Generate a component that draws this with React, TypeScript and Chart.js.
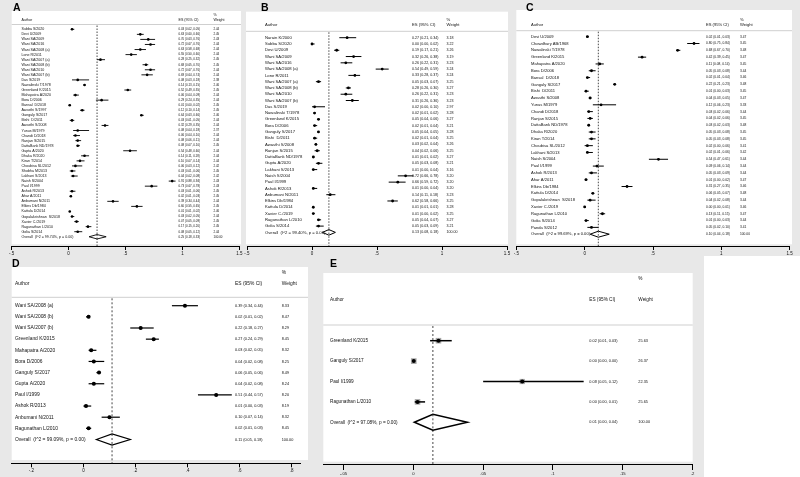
import React, { useEffect, useRef } from "react";
import { Chart, registerables } from "chart.js";
Chart.register(...registerables);

// ---------------- DATA ----------------
const A_AUTHORS = ["Subba S/2020","Devi U/2009","Wani SA/2009","Wani SA/2016","Wani SA/2008 (a)","Lone R/2011","Wani SA/2007 (a)","Wani SA/2008 (b)","Wani SA/2010","Wani SA/2007 (b)","Das S/2019","Nawalinski T/1978","Greenland K/2015","Mahapatra A/2020","Bora D/2006","Bansal  D/2018","Awasthi S/1997","Ganguly S/2017","Bishi  D/2011","Awasthi S/2008","Yunus M/1979","Chandi D/2018","Ranjan S/2015","DattaBank ND/1978","Gupta A/2020","Dhaka R/2020","Kiran T/2014","Choubisa SL/2012","Shobha M/2013","Lakhani S/2013","Naish S/2004","Paul I/1999","Ashok R/2013","Ahar A/2011","Anbumani N/2011","Elkins Db/1984","Kattula D/2014","Gopalakrishnan  S/2018","Xavier C./2019","Ragunathan L/2010","Golia S/2014"];
const A_ES = [0.03,0.63,0.70,0.72,0.63,0.55,0.28,0.68,0.72,0.69,0.08,0.14,0.52,0.06,0.29,0.01,0.12,0.64,0.03,0.32,0.08,0.06,0.08,0.08,0.54,0.14,0.10,0.06,0.03,0.04,0.91,0.73,0.03,0.02,0.39,0.60,0.01,0.03,0.07,0.17,0.08];
const A_LO = [0.02,0.60,0.63,0.67,0.58,0.50,0.25,0.65,0.67,0.64,0.03,0.13,0.49,0.04,0.24,0.00,0.10,0.63,0.01,0.29,0.04,0.04,0.06,0.07,0.48,0.11,0.07,0.03,0.01,0.02,0.88,0.67,0.01,0.01,0.34,0.55,0.01,0.02,0.05,0.15,0.05];
const A_HI = [0.05,0.66,0.76,0.76,0.68,0.60,0.32,0.70,0.76,0.74,0.18,0.15,0.55,0.09,0.35,0.02,0.14,0.66,0.05,0.35,0.18,0.10,0.11,0.10,0.60,0.18,0.14,0.12,0.06,0.08,0.94,0.78,0.06,0.03,0.44,0.65,0.02,0.05,0.09,0.20,0.12];
const A_WEIGHT = [2.44,2.45,2.43,2.44,2.44,2.44,2.45,2.45,2.44,2.44,2.38,2.46,2.45,2.44,2.44,2.45,2.45,2.46,2.44,2.44,2.37,2.44,2.44,2.45,2.44,2.44,2.44,2.42,2.45,2.42,2.43,2.43,2.45,2.45,2.44,2.45,2.46,2.44,2.45,2.45,2.44];
const A_OVERALL = [0.25, 0.18, 0.33];
const A_OVERALL_LABEL = "Overall  (I^2 = 99.74%, p = 0.00)";
const A_TICKS = [-0.5, 0, 0.5, 1, 1.5];

const B_AUTHORS = ["Narain K/2000","Subba S/2020","Devi U/2009","Wani SA/2009","Wani SA/2016","Wani SA/2008 (a)","Lone R/2011","Wani SA/2007 (a)","Wani SA/2008 (b)","Wani SA/2010","Wani SA/2007 (b)","Das S/2019","Nawalinski T/1978","Greenland K/2015","Bora D/2006","Ganguly S/2017","Bishi  D/2011","Awasthi S/2008","Ranjan S/2015","DattaBank ND/1978","Gupta A/2020","Lakhani S/2013","Naish S/2004","Paul I/1999","Ashok R/2013","Anbumani N/2011","Elkins Db/1984","Kattula D/2014","Xavier C./2019","Ragunathan L/2010","Golia S/2014"];
const B_ES = [0.27,0.00,0.19,0.32,0.26,0.54,0.33,0.05,0.28,0.26,0.31,0.02,0.02,0.05,0.02,0.05,0.02,0.03,0.04,0.01,0.05,0.01,0.72,0.66,0.01,0.14,0.62,0.01,0.01,0.05,0.05];
const B_LO = [0.21,0.00,0.17,0.26,0.22,0.49,0.28,0.03,0.26,0.22,0.26,0.00,0.01,0.04,0.01,0.04,0.01,0.02,0.02,0.01,0.03,0.00,0.66,0.59,0.00,0.11,0.58,0.01,0.00,0.04,0.03];
const B_HI = [0.34,0.02,0.21,0.38,0.31,0.59,0.37,0.07,0.30,0.31,0.36,0.10,0.02,0.06,0.04,0.05,0.04,0.04,0.06,0.02,0.08,0.04,0.78,0.72,0.04,0.18,0.66,0.01,0.02,0.07,0.09];
const B_WEIGHT = [3.18,3.22,3.26,3.19,3.23,3.24,3.24,3.25,3.27,3.23,3.23,2.97,3.28,3.27,3.21,3.28,3.25,3.26,3.25,3.27,3.21,3.16,3.20,3.20,3.20,3.23,3.25,3.28,3.25,3.27,3.21];
const B_OVERALL = [0.13, 0.08, 0.18];
const B_OVERALL_LABEL = "Overall  (I^2 = 99.40%, p = 0.00)";
const B_TICKS = [-0.5, 0, 0.5, 1, 1.5];

const C_AUTHORS = ["Devi U/2009","Chowdhury AB/1968","Nawalinski T/1978","Greenland K/2015","Mahapatra A/2020","Bora D/2006","Bansal  D/2018","Ganguly S/2017","Bishi  D/2011","Awasthi S/2008","Yunus M/1979","Chandi D/2018","Ranjan S/2015","DattaBank ND/1978","Dhaka R/2020","Kiran T/2014","Choubisa SL/2012","Lakhani S/2013","Naish S/2004","Paul I/1999","Ashok R/2013","Ahar A/2011","Elkins Db/1984","Kattula D/2014","Gopalakrishnan  S/2018","Xavier C./2019","Ragunathan L/2010","Golia S/2014","Panda S/2012"];
const C_ES = [0.02,0.80,0.68,0.42,0.11,0.05,0.02,0.22,0.01,0.04,0.12,0.03,0.04,0.03,0.05,0.05,0.02,0.02,0.54,0.09,0.05,0.01,0.31,0.06,0.04,0.00,0.13,0.01,0.05];
const C_LO = [0.01,0.75,0.67,0.39,0.08,0.03,0.01,0.21,0.00,0.03,0.06,0.02,0.02,0.02,0.03,0.03,0.00,0.01,0.47,0.06,0.03,0.00,0.27,0.05,0.02,0.00,0.11,0.00,0.02];
const C_HI = [0.03,0.84,0.70,0.45,0.14,0.08,0.04,0.23,0.03,0.05,0.23,0.06,0.06,0.03,0.08,0.08,0.06,0.06,0.61,0.14,0.09,0.02,0.35,0.07,0.08,0.01,0.15,0.03,0.10];
const C_WEIGHT = [3.47,3.45,3.48,3.47,3.45,3.44,3.46,3.48,3.45,3.47,3.33,3.44,3.45,3.48,3.45,3.45,3.41,3.42,3.44,3.44,3.44,3.47,3.46,3.48,3.44,3.46,3.47,3.44,3.41];
const C_OVERALL = [0.10, 0.04, 0.18];
const C_OVERALL_LABEL = "Overall  (I^2 = 99.69%, p = 0.00)";
const C_TICKS = [-0.5, 0, 0.5, 1, 1.5];

const D_AUTHORS = ["Wani SA/2008 (a)","Wani SA/2008 (b)","Wani SA/2007 (b)","Greenland K/2015","Mahapatra A/2020","Bora D/2006","Ganguly S/2017","Gupta A/2020","Paul I/1999","Ashok R/2013","Anbumani N/2011","Ragunathan L/2010"];
const D_ES = [0.39,0.02,0.22,0.27,0.03,0.04,0.06,0.04,0.51,0.01,0.10,0.02];
const D_LO = [0.34,0.01,0.18,0.24,0.02,0.02,0.05,0.02,0.44,0.00,0.07,0.01];
const D_HI = [0.44,0.02,0.27,0.29,0.05,0.08,0.06,0.08,0.57,0.03,0.14,0.03];
const D_WEIGHT = [8.33,8.47,8.29,8.45,8.32,8.25,8.49,8.24,8.20,8.19,8.32,8.45];
const D_OVERALL = [0.11, 0.05, 0.18];
const D_OVERALL_LABEL = "Overall  (I^2 = 99.09%, p = 0.00)";
const D_TICKS = [-0.2, 0, 0.2, 0.4, 0.6, 0.8];

const E_AUTHORS = ["Greenland K/2015","Ganguly S/2017","Paul I/1999","Ragunathan L/2010"];
const E_ES = [0.018,0.0003,0.078,0.003];
const E_LO = [0.012,0.0,0.05,0.001];
const E_HI = [0.0275,0.0008,0.122,0.0084];
const E_WEIGHT = [25.63,26.37,22.35,25.65];
const E_OVERALL = [0.014, 0.0007, 0.0387];
const E_OVERALL_LABEL = "Overall  (I^2 = 97.08%, p = 0.00)";
const E_TICKS = [-0.05, 0, 0.05, 0.1, 0.15, 0.2];

// ---------------- STYLE / LAYOUT ----------------
const FONT = '"Liberation Sans", Arial, Helvetica, sans-serif';
const GRAY = "#e8e8e8";
const TEXT = "#111111";

type PanelData = {
  authors: string[]; es: number[]; lo: number[]; hi: number[]; weight: number[];
  overall: number[]; overallLabel: string; ticks: number[];
};
type Layout = {
  label: string; labelX: number; labelY: number;
  box: number[]; area: number[]; xMin: number; xMax: number;
  whiteLeft: number; whiteRight: number; whiteGap: number;
  firstRow: number; rowGap: number;
  pctY: number; headY: number; lineY: number;
  nameX: number; esX: number; wX: number;
  nameSize: number; numSize: number; tickSize: number; tickLen: number; tickPad: number;
  dot: number; lineW: number; sq: number; diaH: number; dash: number[];
};

const PANELS: { data: PanelData; lay: Layout }[] = [
  {
    data: { authors: A_AUTHORS, es: A_ES, lo: A_LO, hi: A_HI, weight: A_WEIGHT, overall: A_OVERALL, overallLabel: A_OVERALL_LABEL, ticks: A_TICKS },
    lay: { label: "A", labelX: 13, labelY: 2.5, box: [0, 0, 244, 256], area: [11.7, 11, 239.3, 246], xMin: -0.5, xMax: 1.5,
      whiteLeft: 11.7, whiteRight: 241, whiteGap: 1.7, firstRow: 29.3, rowGap: 5.06, pctY: 14.7, headY: 20, lineY: 24.5,
      nameX: 21.5, esX: 178.5, wX: 213.5, nameSize: 3.6, numSize: 2.95, tickSize: 4.5, tickLen: 4, tickPad: 1,
      dot: 1.3, lineW: 0.9, sq: 1.0, diaH: 2.2, dash: [1.5, 1.5] },
  },
  {
    data: { authors: B_AUTHORS, es: B_ES, lo: B_LO, hi: B_HI, weight: B_WEIGHT, overall: B_OVERALL, overallLabel: B_OVERALL_LABEL, ticks: B_TICKS },
    lay: { label: "B", labelX: 261, labelY: 2.5, box: [244, 0, 270, 256], area: [247, 11.7, 507, 246], xMin: -0.5, xMax: 1.5,
      whiteLeft: 246, whiteRight: 508, whiteGap: 1.7, firstRow: 37.7, rowGap: 6.28, pctY: 20, headY: 25, lineY: 31.3,
      nameX: 265, esX: 412, wX: 446.5, nameSize: 4.2, numSize: 3.6, tickSize: 4.5, tickLen: 4, tickPad: 1,
      dot: 1.4, lineW: 1, sq: 1.0, diaH: 2.8, dash: [1.5, 1.5] },
  },
  {
    data: { authors: C_AUTHORS, es: C_ES, lo: C_LO, hi: C_HI, weight: C_WEIGHT, overall: C_OVERALL, overallLabel: C_OVERALL_LABEL, ticks: C_TICKS },
    lay: { label: "C", labelX: 526, labelY: 2.5, box: [514, 0, 286, 256], area: [516.3, 10, 789.7, 246], xMin: -0.5, xMax: 1.5,
      whiteLeft: 516.3, whiteRight: 792, whiteGap: 1.7, firstRow: 36.7, rowGap: 6.81, pctY: 20, headY: 25, lineY: 30.7,
      nameX: 531, esX: 706, wX: 740, nameSize: 4.1, numSize: 3.25, tickSize: 4.5, tickLen: 4, tickPad: 1,
      dot: 1.4, lineW: 1, sq: 1.0, diaH: 3, dash: [1.5, 1.5] },
  },
  {
    data: { authors: D_AUTHORS, es: D_ES, lo: D_LO, hi: D_HI, weight: D_WEIGHT, overall: D_OVERALL, overallLabel: D_OVERALL_LABEL, ticks: D_TICKS },
    lay: { label: "D", labelX: 12, labelY: 259, box: [0, 256, 308, 221], area: [11.7, 267, 300, 463.3], xMin: -0.2754, xMax: 0.832,
      whiteLeft: 11.7, whiteRight: 308, whiteGap: 3.3, firstRow: 305.7, rowGap: 11.15, pctY: 272.3, headY: 284, lineY: 297.3,
      nameX: 15, esX: 235, wX: 281.7, nameSize: 4.9, numSize: 3.8, tickSize: 4.5, tickLen: 4, tickPad: 1,
      dot: 2, lineW: 1.2, sq: 1.0, diaH: 5.5, dash: [2, 2] },
  },
  {
    data: { authors: E_AUTHORS, es: E_ES, lo: E_LO, hi: E_HI, weight: E_WEIGHT, overall: E_OVERALL, overallLabel: E_OVERALL_LABEL, ticks: E_TICKS },
    lay: { label: "E", labelX: 330, labelY: 259, box: [308, 256, 396, 221], area: [323.3, 273, 692.7, 464], xMin: -0.0645, xMax: 0.2001,
      whiteLeft: 323.3, whiteRight: 692.7, whiteGap: 2.3, firstRow: 340.7, rowGap: 20.4, pctY: 279, headY: 300, lineY: 325,
      nameX: 330, esX: 589.3, wX: 638.3, nameSize: 4.7, numSize: 3.85, tickSize: 4.2, tickLen: 6, tickPad: 1.5,
      dot: 2, lineW: 1.5, sq: 1.1, diaH: 8, dash: [2, 2] },
  },
];

function fmtTick(v: number): string {
  const r = Math.round(v * 1000) / 1000;
  if (r === 0) return "0";
  return String(r).replace(/^(-?)0\./, "$1.");
}
function fmtES(es: number, lo: number, hi: number): string {
  return `${es.toFixed(2)} (${lo.toFixed(2)}, ${hi.toFixed(2)})`;
}

function Forest({ data, lay }: { data: PanelData; lay: Layout }) {
  const ref = useRef<HTMLCanvasElement>(null);
  useEffect(() => {
    const cv = ref.current!;
    const [bl, bt, bw, bh] = lay.box;
    const [al, at, ar, ab] = lay.area;
    const n = data.authors.length;
    const yMin = -(lay.firstRow - at) / lay.rowGap;
    const yMax = yMin + (ab - at) / lay.rowGap;
    const font = (s: number, bold = false) => `${bold ? "bold " : ""}${s}px ${FONT}`;

    const plugin = {
      id: "forest" + lay.label,
      beforeDraw(chart: any) {
        const ctx = chart.ctx;
        const ca = chart.chartArea;
        ctx.save();
        ctx.fillStyle = GRAY;
        ctx.fillRect(0, 0, bw, bh);
        ctx.fillStyle = "#ffffff";
        ctx.fillRect(lay.whiteLeft - bl, ca.top, lay.whiteRight - lay.whiteLeft, ca.bottom - lay.whiteGap - ca.top);
        ctx.restore();
      },
      beforeDatasetsDraw(chart: any) {
        const ctx = chart.ctx;
        const xs = chart.scales.x;
        const ys = chart.scales.y;
        const ca = chart.chartArea;
        ctx.save();
        ctx.strokeStyle = "#cfcfcf";
        ctx.lineWidth = 1;
        ctx.beginPath();
        ctx.moveTo(lay.whiteLeft - bl, lay.lineY - bt);
        ctx.lineTo(lay.whiteRight - bl, lay.lineY - bt);
        ctx.stroke();
        const ox = xs.getPixelForValue(data.overall[0]);
        ctx.strokeStyle = "#333";
        ctx.lineWidth = 0.9;
        ctx.setLineDash(lay.dash);
        ctx.beginPath();
        ctx.moveTo(ox, lay.lineY - bt + 1);
        ctx.lineTo(ox, ca.bottom);
        ctx.stroke();
        ctx.setLineDash([]);
        for (let i = 0; i < n; i++) {
          const y = ys.getPixelForValue(i);
          const side = Math.sqrt(data.weight[i]) * lay.sq;
          const cx = xs.getPixelForValue(data.es[i]);
          ctx.fillStyle = "#a6a6a6";
          ctx.fillRect(cx - side / 2, y - side / 2, side, side);
          ctx.strokeStyle = "#000";
          ctx.lineWidth = lay.lineW;
          ctx.beginPath();
          ctx.moveTo(xs.getPixelForValue(data.lo[i]), y);
          ctx.lineTo(xs.getPixelForValue(data.hi[i]), y);
          ctx.stroke();
        }
        const dy = ys.getPixelForValue(n);
        ctx.strokeStyle = "#000";
        ctx.fillStyle = "#fff";
        ctx.lineWidth = lay.lineW;
        ctx.beginPath();
        ctx.moveTo(xs.getPixelForValue(data.overall[1]), dy);
        ctx.lineTo(ox, dy - lay.diaH);
        ctx.lineTo(xs.getPixelForValue(data.overall[2]), dy);
        ctx.lineTo(ox, dy + lay.diaH);
        ctx.closePath();
        ctx.fill();
        ctx.stroke();
        ctx.strokeStyle = "#333";
        ctx.lineWidth = 0.9;
        ctx.setLineDash(lay.dash);
        ctx.beginPath();
        ctx.moveTo(ox, dy - lay.diaH);
        ctx.lineTo(ox, dy + lay.diaH);
        ctx.stroke();
        ctx.restore();
      },
      afterDraw(chart: any) {
        const ctx = chart.ctx;
        const ys = chart.scales.y;
        ctx.save();
        ctx.fillStyle = TEXT;
        ctx.textBaseline = "middle";
        ctx.textAlign = "left";
        ctx.font = font(lay.nameSize);
        ctx.fillText("Author", lay.nameX - bl, lay.headY - bt);
        ctx.fillText("ES (95% CI)", lay.esX - bl, lay.headY - bt);
        ctx.fillText("%", lay.wX - bl, lay.pctY - bt);
        ctx.fillText("Weight", lay.wX - bl, lay.headY - bt);
        for (let i = 0; i <= n; i++) {
          const y = ys.getPixelForValue(i);
          const isO = i === n;
          ctx.font = font(lay.nameSize);
          ctx.fillText(isO ? data.overallLabel : data.authors[i], lay.nameX - bl, y);
          ctx.font = font(lay.numSize);
          const t = isO ? fmtES(data.overall[0], data.overall[1], data.overall[2]) : fmtES(data.es[i], data.lo[i], data.hi[i]);
          ctx.fillText(t, lay.esX - bl, y);
          ctx.fillText(isO ? "100.00" : data.weight[i].toFixed(2), lay.wX - bl, y);
        }
        ctx.fillStyle = "#000";
        ctx.textBaseline = "top";
        ctx.font = font(10.5, true);
        ctx.fillText(lay.label, lay.labelX - bl, lay.labelY - bt);
        ctx.restore();
      },
    };

    const chart = new Chart(cv, {
      type: "scatter",
      data: {
        datasets: [{
          data: data.es.map((v, i) => ({ x: v, y: i })),
          pointRadius: lay.dot,
          pointHoverRadius: lay.dot,
          backgroundColor: "#000",
          borderWidth: 0,
        }],
      },
      options: {
        animation: false,
        responsive: false,
        events: [],
        layout: { padding: { left: al - bl, right: bl + bw - ar, top: at - bt, bottom: 0 } },
        plugins: { legend: { display: false }, tooltip: { enabled: false } },
        scales: {
          x: {
            type: "linear",
            position: "bottom",
            min: lay.xMin,
            max: lay.xMax,
            bounds: "data",
            grid: { display: true, drawOnChartArea: false, drawTicks: true, tickLength: lay.tickLen, color: "#000", lineWidth: 1 },
            border: { display: true, color: "#000", width: 1 },
            ticks: {
              font: { family: FONT, size: lay.tickSize },
              color: TEXT,
              padding: lay.tickPad,
              maxRotation: 0,
              autoSkip: false,
              callback: (v: any) => fmtTick(Number(v)),
            },
            afterBuildTicks: (s: any) => { s.ticks = data.ticks.map((v) => ({ value: v })); },
            afterFit: (s: any) => { s.height = bt + bh - ab; s.paddingLeft = 0; s.paddingRight = 0; },
          },
          y: { type: "linear", display: false, reverse: true, min: yMin, max: yMax },
        },
      } as any,
      plugins: [plugin],
    });
    return () => chart.destroy();
  }, []);
  const [l, t, w, h] = lay.box;
  return (
    <canvas
      ref={ref}
      width={w}
      height={h}
      style={{ position: "absolute", left: l, top: t, width: w, height: h, display: "block" }}
    />
  );
}

export default function App() {
  return (
    <div style={{ position: "fixed", left: 0, top: 0, width: 800, height: 477, background: "#ffffff", overflow: "hidden" }}>
      {PANELS.map((p) => (
        <Forest key={p.lay.label} data={p.data} lay={p.lay} />
      ))}
    </div>
  );
}
